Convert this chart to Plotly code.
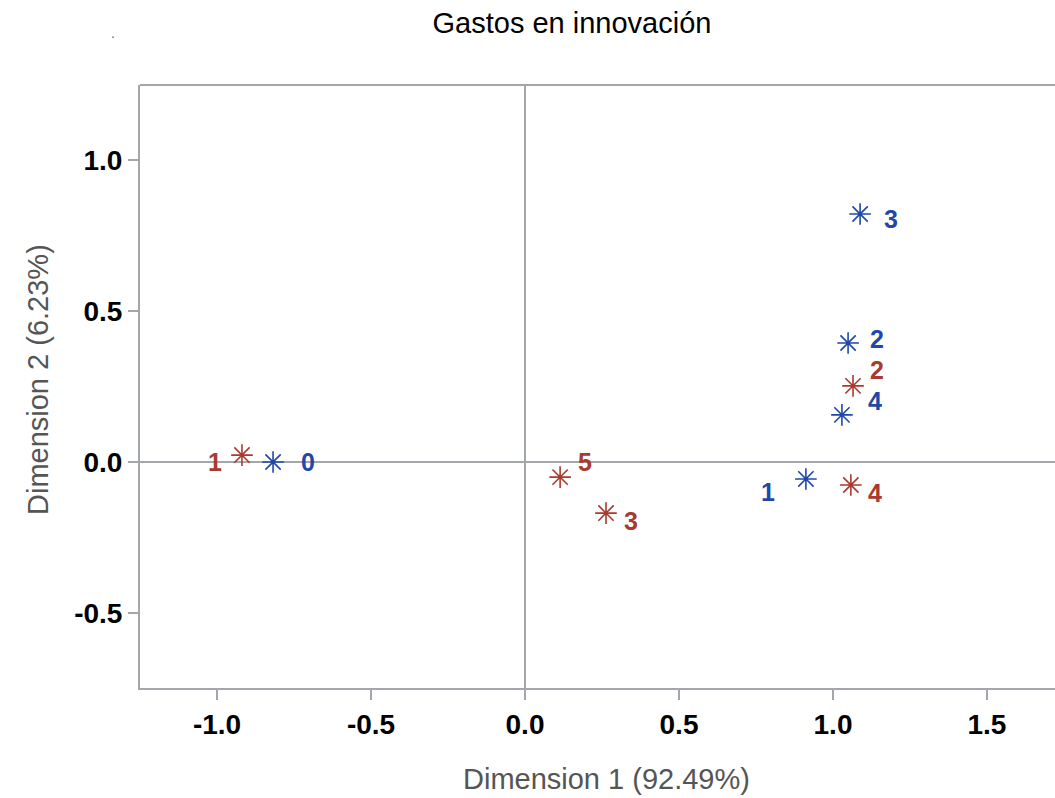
import plotly.graph_objects as go

# Data
blue_labels = ["0", "1", "2", "3", "4"]
blue_x = [-0.818, 0.912, 1.049, 1.088, 1.029]
blue_y = [0.000, -0.056, 0.394, 0.821, 0.156]

red_labels = ["1", "2", "3", "4", "5"]
red_x = [-0.919, 1.065, 0.263, 1.058, 0.114]
red_y = [0.023, 0.252, -0.169, -0.076, -0.050]

x_ticks = [-1.0, -0.5, 0.0, 0.5, 1.0, 1.5]
y_ticks = [-0.5, 0.0, 0.5, 1.0]

title = "Gastos en innovación"
x_title = "Dimension 1 (92.49%)"
y_title = "Dimension 2 (6.23%)"

BLUE = "#1f48a8"
RED = "#a83a2e"
GRID = "#a3a6aa"
FONT = "Liberation Sans, Arial, sans-serif"

# label offsets in pixels (style)
blue_off = [(35, 0), (-38, -13), (29, 4), (31, -5), (33, 14)]
red_off = [(-27, -7), (24, 16), (25, -8), (24, -8), (25, 15)]

W, H = 1055, 798
L, R, T, B = 140, 0, 85, 110
PW, PH = W - L - R, H - T - B

def px(xp):
    return (xp - L) / PW

def py(yp):
    return (H - B - yp) / PH

fig = go.Figure()
for xs, ys, col in [(blue_x, blue_y, BLUE), (red_x, red_y, RED)]:
    fig.add_trace(go.Scatter(
        x=xs, y=ys, mode="markers",
        marker=dict(symbol="asterisk-open", size=18, color=col,
                    line=dict(color=col, width=1.6)),
        showlegend=False, hoverinfo="skip"))

ann = []
for labs, xs, ys, offs, col in [(blue_labels, blue_x, blue_y, blue_off, BLUE),
                                (red_labels, red_x, red_y, red_off, RED)]:
    for l, xv, yv, (dx, dy) in zip(labs, xs, ys, offs):
        ann.append(dict(x=xv, y=yv, text="<b>%s</b>" % l, showarrow=False,
                        xshift=dx, yshift=dy,
                        font=dict(family=FONT, size=25, color=col)))
# small stray dot near the top-left
ann.append(dict(x=px(113), y=py(33), xref="paper", yref="paper", text=".",
                showarrow=False, font=dict(size=14, color="#666"),
                xanchor="center", yanchor="middle"))
# axis titles
ann.append(dict(x=px(606), y=py(779), xref="paper", yref="paper", text=x_title,
                showarrow=False, xanchor="center", yanchor="middle",
                font=dict(family=FONT, size=29, color="#555")))
ann.append(dict(x=px(38), y=py(380), xref="paper", yref="paper", text=y_title,
                showarrow=False, xanchor="center", yanchor="middle", textangle=-90,
                font=dict(family=FONT, size=29, color="#555")))

fig.update_layout(
    width=W, height=H,
    margin=dict(l=L, r=R, t=T, b=B),
    paper_bgcolor="white", plot_bgcolor="rgba(0,0,0,0)",
    title=dict(text=title, x=572 / W, xref="container", xanchor="center",
               y=1 - 23 / H, yref="container", yanchor="middle",
               font=dict(family=FONT, size=29, color="#000")),
    annotations=ann,
    font=dict(family=FONT),
    shapes=[dict(type="line", xref="paper", yref="paper", x0=0, x1=1.01,
                 y0=1, y1=1, line=dict(color=GRID, width=2))],
)

def fmt(v):
    return ("%.1f" % v)

fig.update_xaxes(
    range=[-1.25, 1.7208], tickvals=x_ticks, ticktext=[fmt(v) for v in x_ticks],
    showgrid=False, zeroline=True, zerolinecolor=GRID, zerolinewidth=1.5,
    showline=True, linecolor=GRID, linewidth=2, mirror=False,
    ticks="outside", ticklen=10, tickcolor=GRID, tickwidth=1.5,
    tickfont=dict(family=FONT, size=28, color="#000", weight="bold"),
)
fig.update_yaxes(
    range=[-0.748, 1.248], tickvals=y_ticks, ticktext=[fmt(v) for v in y_ticks],
    showgrid=False, zeroline=True, zerolinecolor=GRID, zerolinewidth=1.5,
    showline=True, linecolor=GRID, linewidth=2, mirror=False,
    ticks="outside", ticklen=10, tickcolor=GRID, tickwidth=1.5,
    tickfont=dict(family=FONT, size=28, color="#000", weight="bold"),
)

fig.write_html("out.html")
